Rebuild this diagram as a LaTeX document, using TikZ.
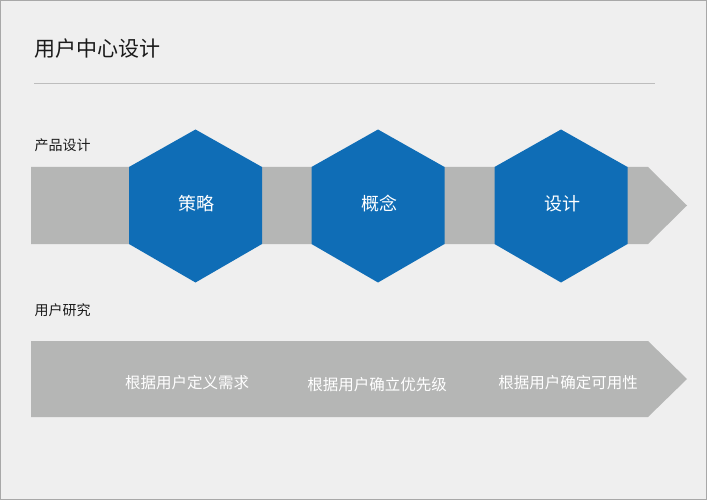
\documentclass[tikz,border=0pt]{standalone}
\usepackage{fontspec}
\setmainfont{Noto Sans CJK SC}
\definecolor{bg}{HTML}{EFEFEF}
\definecolor{frame}{HTML}{A8A8A8}
\definecolor{band}{HTML}{B5B6B5}
\definecolor{hexblue}{HTML}{0F6DB6}
\definecolor{rulegray}{HTML}{BDBDBD}
\definecolor{ink}{HTML}{1A1A1A}
\begin{document}
\begin{tikzpicture}[x=1pt,y=-1pt,
  title/.style={font=\fontsize{21}{24}\selectfont, text=ink, anchor=west, inner sep=0pt},
  section/.style={font=\fontsize{14}{16}\selectfont, text=ink, anchor=west, inner sep=0pt},
  hexlabel/.style={font=\fontsize{18}{20}\selectfont, text=white, inner sep=0pt},
  bandlabel/.style={font=\fontsize{15.5}{18}\selectfont, text=white, inner sep=0pt},
  bandfill/.style={fill=band, draw=none},
  hexfill/.style={fill=hexblue, draw=none}]
\useasboundingbox (0,0) rectangle (707,500);
\fill[bg] (0,0) rectangle (707,500);
\draw[frame, line width=1pt] (0.5,0.5) rectangle (706.5,499.5);

% title and rule
\node[title] (title) at (34.5,49) {用户中心设计};
\coordinate (ruleL) at (34,83.5);
\coordinate (ruleR) at (655,83.5);
\draw[rulegray, line width=1pt] (ruleL) -- (ruleR);

% section labels
\node[section] (secA) at (34.5,145) {产品设计};
\node[section] (secB) at (34.5,310.5) {用户研究};

% top arrow band
\fill[bandfill] (31,167) -- (648,167) -- (687,205.5) -- (648,244) -- (31,244) -- cycle;

% hexagons
\foreach \cx/\nm/\txt in {195.5/hexA/策略, 378/hexB/概念, 561/hexC/设计}{
  \fill[hexfill] (\cx,129.5) -- (\cx+66.5,167) -- (\cx+66.5,244) -- (\cx,282.5)
     -- (\cx-66.5,244) -- (\cx-66.5,167) -- cycle;
  \node[hexlabel] (\nm) at (\cx+1,204) {\txt};
}

% bottom arrow band
\fill[bandfill] (31,341) -- (648,341) -- (687,379) -- (648,417) -- (31,417) -- cycle;
\node[bandlabel] (rA) at (187,383) {根据用户定义需求};
\node[bandlabel] (rB) at (377,385) {根据用户确立优先级};
\node[bandlabel] (rC) at (568,383) {根据用户确定可用性};
\end{tikzpicture}
\end{document}
